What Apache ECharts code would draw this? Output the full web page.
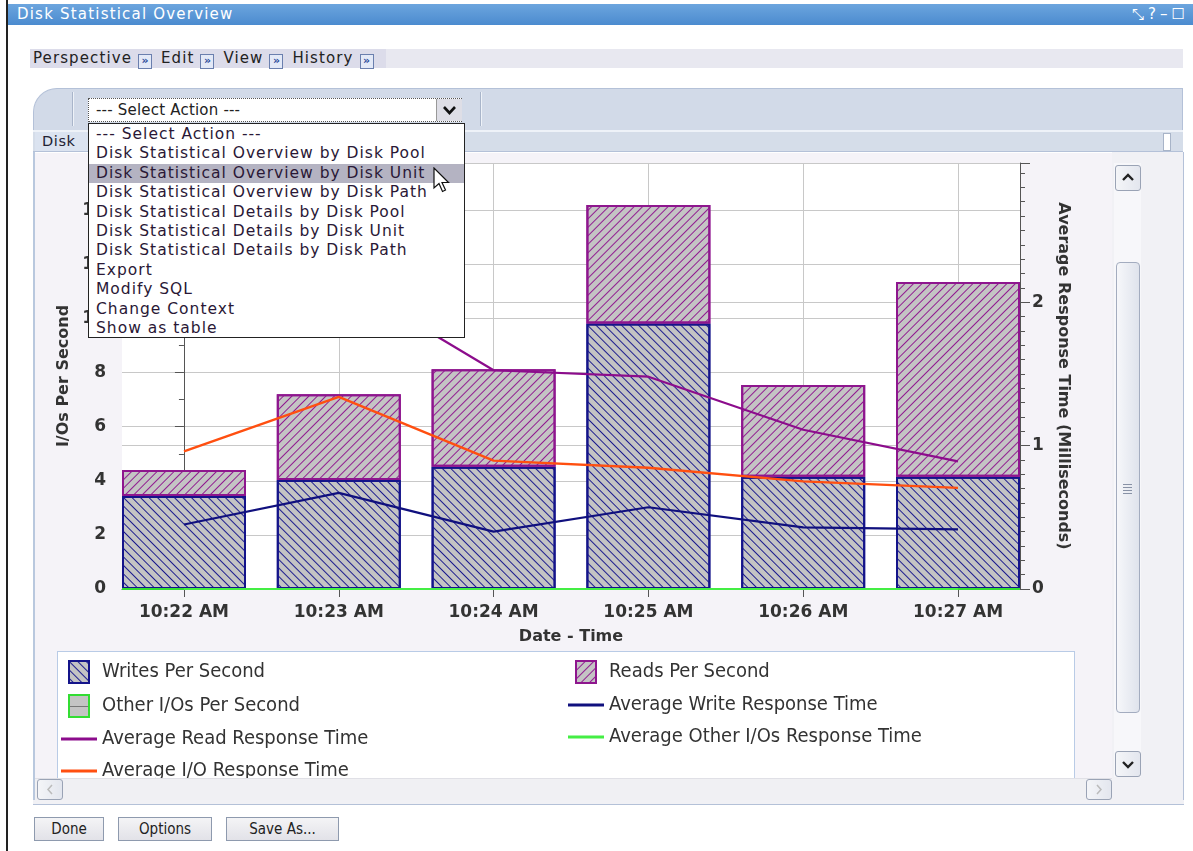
<!DOCTYPE html>
<html>
<head>
<meta charset="utf-8">
<title>Disk Statistical Overview</title>
<script src="https://cdn.jsdelivr.net/npm/echarts@6/dist/echarts.min.js"></script>
<style>
  html, body { margin: 0; padding: 0; background: #fff; }
  body { width: 1193px; height: 851px; position: relative; overflow: hidden; font-family: "DejaVu Sans", sans-serif; }
  .abs { position: absolute; }
  .frameLeft { left: 6px; top: 0; width: 2px; height: 851px; background: #222; }
  .titlebar { left: 8px; top: 4px; width: 1185px; height: 21px; background: linear-gradient(#6ca5de, #4b8bcf); color: #fff; font-size: 15px; letter-spacing: 1.2px; line-height: 21px; padding-left: 9px; box-sizing: border-box; }
  .titlebar .ticons { position: absolute; right: 4px; top: 0; letter-spacing: 4px; font-size: 15px; }
  .menubar { left: 30px; top: 49px; width: 1153px; height: 19px; background: #e8e8f0; }
  .menubar .inner { position: absolute; left: 0; top: 0; width: 353px; height: 19px; background: #dcdcea; font-size: 15px; letter-spacing: 1.1px; line-height: 19px; color: #222; padding-left: 3px; white-space: nowrap; }
  .mico { display: inline-block; width: 12px; height: 13px; border: 1px solid #6a7fae; background: #e3e9f7; color: #2a4a9a; font-size: 11px; line-height: 12px; text-align: center; vertical-align: -1px; margin: 0 9px 0 6px; font-weight: bold; letter-spacing: 0; }
  .panelHead { left: 33px; top: 88px; width: 1150px; height: 42px; background: #d2dae8; border: 1px solid #b4c1d8; border-bottom: none; border-top-left-radius: 24px; box-sizing: border-box; }
  .sep { width: 1px; height: 34px; top: 92px; background: #a9b5ca; box-shadow: 1px 0 0 #eef2f8; }
  .select { left: 88px; top: 98px; width: 374px; height: 24px; background: #fff; border: 1px dotted #555; box-sizing: border-box; font-size: 15px; letter-spacing: 0.2px; line-height: 22px; padding-left: 7px; color: #222; }
  .selBtn { left: 436px; top: 99px; width: 25px; height: 22px; background: #dedee6; border-left: 1px solid #999; }
  .subHead { left: 33px; top: 130px; width: 1150px; height: 22px; background: #d5dde9; border-top: 2px solid #eef2f8; border-bottom: 1px solid #b4c1d8; box-sizing: border-box; }
  .subHead .tab { position: absolute; left: 2px; top: 0; width: 56px; height: 19px; background: #dbe3f0; font-size: 14.5px; letter-spacing: 0.6px; line-height: 19px; padding-left: 7px; box-sizing: border-box; color: #223; }
  .subHead .knob { position: absolute; right: 12px; top: 1px; width: 6px; height: 16px; background: #fff; border: 1px solid #a8b4c8; }
  .content { left: 35px; top: 153px; width: 1077px; height: 625px; background: #f5f3f8; }
  .panelSide { left: 1112px; top: 152px; width: 71px; height: 652px; background: #f1f1f5; border-right: 1px solid #b4c1d8; }
  .panelLeft { left: 33px; top: 152px; width: 2px; height: 652px; background: #b9c8de; }
  .panelBottom { left: 33px; top: 800px; width: 1151px; height: 4px; background: #f1f1f5; border-bottom: 1px solid #b4c1d8; }
  .legendBox { left: 57px; top: 651px; width: 1018px; height: 130px; background: #fff; border: 1px solid #b9cbe6; box-sizing: border-box; }
  .vtrack { left: 1114px; top: 163px; width: 27px; height: 614px; background: #f7f7fa; }
  .sbtn { background: linear-gradient(90deg, #f4f5f8, #e3e6ee); border: 1px solid #9aa3b5; border-radius: 3px; box-sizing: border-box; }
  .thumb { left: 1116px; top: 262px; width: 24px; height: 451px; background: linear-gradient(90deg, #f6f7fa, #dfe3ec); border: 1px solid #a3acbf; border-radius: 4px; box-sizing: border-box; }
  .grip { left: 1123px; width: 9px; height: 1px; background: #8892a6; }
  .hscroll { left: 35px; top: 778px; width: 1077px; height: 22px; background: #f0f0f3; border-top: 1px solid #e0e0e6; box-sizing: border-box; }
  .btn { top: 817px; height: 24px; background: linear-gradient(#f4f4f6, #e2e2e8); border: 1px solid #8e9aae; box-sizing: border-box; font-family: "DejaVu Sans Condensed", "DejaVu Sans", sans-serif; font-size: 15px; line-height: 22px; text-align: center; color: #222; }
  .dropdown { left: 88px; top: 123px; width: 377px; height: 215px; background: #fff; border: 1px solid #222; box-sizing: border-box; z-index: 5; font-size: 15.5px; letter-spacing: 1px; color: #2a1836; padding-top: 1px; }
  .dropdown div { height: 19.4px; line-height: 19.4px; padding-left: 7px; white-space: nowrap; }
  .dropdown .hl { background: #b4b3c2; }
  #chart { position: absolute; left: 0; top: 0; width: 1193px; height: 851px; z-index: 3; }
  .over { z-index: 4; }
</style>
</head>
<body>
<div class="abs frameLeft"></div>
<div class="abs titlebar">Disk Statistical Overview<span class="ticons">⤡?–☐</span></div>
<div class="abs menubar"><div class="inner">Perspective<span class="mico">»</span>Edit<span class="mico">»</span>View<span class="mico">»</span>History<span class="mico">»</span></div></div>
<div class="abs panelHead"></div>
<div class="abs sep" style="left:72px"></div>
<div class="abs sep" style="left:480px"></div>
<div class="abs select">--- Select Action ---</div>
<div class="abs selBtn"><svg width="25" height="22"><path d="M7 8 L12.5 14 L18 8" fill="none" stroke="#111" stroke-width="2.6"/></svg></div>
<div class="abs subHead"><div class="tab">Disk</div><div class="knob"></div></div>
<div class="abs content"></div>
<div class="abs panelSide"></div>
<div class="abs panelLeft"></div>
<div class="abs panelBottom"></div>
<div class="abs legendBox"></div>

<div class="abs vtrack over"></div>
<div class="abs sbtn over" style="left:1115px;top:165px;width:26px;height:26px"><svg width="24" height="24"><path d="M7 14 L12 9 L17 14" fill="none" stroke="#222" stroke-width="2.4"/></svg></div>
<div class="abs thumb over"></div>
<div class="abs grip over" style="top:484px"></div>
<div class="abs grip over" style="top:487px"></div>
<div class="abs grip over" style="top:490px"></div>
<div class="abs grip over" style="top:493px"></div>
<div class="abs sbtn over" style="left:1115px;top:751px;width:26px;height:26px"><svg width="24" height="24"><path d="M7 10 L12 15 L17 10" fill="none" stroke="#222" stroke-width="2.4"/></svg></div>
<div class="abs hscroll over"></div>
<div class="abs sbtn over" style="left:37px;top:779px;width:26px;height:21px"><svg width="24" height="19"><path d="M14 5 L10 9.5 L14 14" fill="none" stroke="#bbb" stroke-width="1.5"/></svg></div>
<div class="abs sbtn over" style="left:1086px;top:779px;width:26px;height:21px"><svg width="24" height="19"><path d="M10 5 L14 9.5 L10 14" fill="none" stroke="#bbb" stroke-width="1.5"/></svg></div>

<div class="abs btn" style="left:34px;width:70px">Done</div>
<div class="abs btn" style="left:118px;width:94px">Options</div>
<div class="abs btn" style="left:226px;width:113px">Save As...</div>

<div class="abs dropdown">
  <div>--- Select Action ---</div>
  <div>Disk Statistical Overview by Disk Pool</div>
  <div class="hl">Disk Statistical Overview by Disk Unit</div>
  <div>Disk Statistical Overview by Disk Path</div>
  <div>Disk Statistical Details by Disk Pool</div>
  <div>Disk Statistical Details by Disk Unit</div>
  <div>Disk Statistical Details by Disk Path</div>
  <div>Export</div>
  <div>Modify SQL</div>
  <div>Change Context</div>
  <div>Show as table</div>
</div>
<svg class="abs" style="left:432px;top:167px;z-index:6" width="20" height="30">
  <path d="M2 1 L2 21 L7 16.5 L10.5 24.5 L13.5 23 L10 15.5 L16.5 15.5 Z" fill="#fff" stroke="#111" stroke-width="1.2"/>
</svg>

<div id="chart"></div>

<script>
// 时间点（横轴类目）
const timeLabels = ['10:22 AM', '10:23 AM', '10:24 AM', '10:25 AM', '10:26 AM', '10:27 AM'];

// 每秒 I/O（左轴）
const writesPerSecond = [3.44, 4.03, 4.52, 9.82, 4.15, 4.15];
const readsPerSecond = [0.96, 3.17, 3.60, 4.38, 3.39, 7.20];
const otherPerSecond = [0, 0, 0, 0, 0, 0];

// 平均响应时间，毫秒（右轴）
const avgWriteResponse = [0.45, 0.67, 0.40, 0.57, 0.43, 0.415];
const avgReadResponse = [1.95, 2.17, 1.525, 1.48, 1.11, 0.89];
const avgOtherResponse = [0, 0, 0, 0, 0, 0];
const avgIoResponse = [0.96, 1.34, 0.895, 0.845, 0.75, 0.705];

// 轴范围
const leftMax = 15.75;
const rightMax = 2.97;

const FONT = 'DejaVu Sans';
const LEGEND_FONT = 'DejaVu Sans Condensed';

const positions = timeLabels.map((_, i) => i);

const barIcon = 'path://M0 0H20V22H0Z';
const lineIcon = 'path://M0 0H36V3H0Z';

const chart = echarts.init(document.getElementById('chart'), null, { renderer: 'canvas' });

const axisNameStyle = { fontFamily: FONT, fontWeight: 'bold', fontSize: 16, color: '#333' };
const tickLabelStyle = { fontFamily: FONT, fontWeight: 'bold', fontSize: 17, color: '#333' };
const legendText = { fontFamily: LEGEND_FONT, fontSize: 20, lineHeight: 22, color: '#333' };

const hiddenAxis = { show: false, axisLine: { show: false }, axisTick: { show: false }, axisLabel: { show: false }, splitLine: { show: false } };

const option = {
  animation: false,
  backgroundColor: 'transparent',
  grid: [
    // 可见坐标轴所在的绘图区
    { left: 122, right: 173, top: 163, bottom: 262, show: true, backgroundColor: '#ffffff', borderWidth: 0 },
    // 柱子和折线所在的类目网格（两端留出与原图一致的间距）
    { left: 106.6, right: 157.6, top: 163, bottom: 262, show: false }
  ],
  legend: [
    {
      left: 61, top: 660, orient: 'vertical', itemGap: 10, padding: 0,
      itemWidth: 36, itemHeight: 22, selectedMode: false,
      textStyle: legendText,
      data: [
        { name: 'Writes Per Second', icon: barIcon },
        { name: 'Other I/Os Per Second', icon: barIcon },
        { name: 'Average Read Response Time', icon: lineIcon },
        { name: 'Average I/O Response Time', icon: lineIcon }
      ]
    },
    {
      left: 568, top: 660, orient: 'vertical', itemGap: 10, padding: 0,
      itemWidth: 36, itemHeight: 22, selectedMode: false,
      textStyle: legendText,
      data: [
        { name: 'Reads Per Second', icon: barIcon },
        { name: 'Average Write Response Time', icon: lineIcon },
        { name: 'Average Other I/Os Response Time', icon: lineIcon }
      ]
    }
  ],
  xAxis: [
    {
      gridIndex: 0,
      type: 'value',
      min: -0.4,
      max: 5.4,
      name: 'Date - Time',
      nameLocation: 'middle',
      nameGap: 40,
      nameTextStyle: axisNameStyle,
      axisLine: { show: true, onZero: false, lineStyle: { color: '#555', width: 1 } },
      axisTick: { show: true, customValues: positions, length: 8, lineStyle: { color: '#555' } },
      axisLabel: Object.assign({ customValues: positions, margin: 15, formatter: (v) => timeLabels[v] }, tickLabelStyle),
      splitLine: { show: true, lineStyle: { color: '#c8c8c8', width: 1 } }
    },
    Object.assign({ gridIndex: 1, type: 'category', data: timeLabels, boundaryGap: true }, hiddenAxis)
  ],
  yAxis: [
    {
      gridIndex: 0,
      type: 'value',
      position: 'left',
      min: 0,
      max: leftMax,
      interval: 2,
      name: 'I/Os Per Second',
      nameLocation: 'middle',
      nameGap: 46,
      nameTextStyle: axisNameStyle,
      axisLine: { show: true, lineStyle: { color: '#555', width: 1 } },
      axisTick: { show: true, length: 9, lineStyle: { color: '#555' } },
      minorTick: { show: true, splitNumber: 2, length: 5, lineStyle: { color: '#555' } },
      axisLabel: Object.assign({ margin: 16, showMaxLabel: false }, tickLabelStyle),
      splitLine: { show: true, lineStyle: { color: '#c8c8c8', width: 1 } }
    },
    {
      gridIndex: 0,
      type: 'value',
      position: 'right',
      min: 0,
      max: rightMax,
      interval: 1,
      name: 'Average Response Time (Milliseconds)',
      nameLocation: 'middle',
      nameRotate: -90,
      nameGap: 34,
      nameTextStyle: axisNameStyle,
      axisLine: { show: true, lineStyle: { color: '#555', width: 1 } },
      axisTick: { show: true, length: 10, lineStyle: { color: '#555' } },
      minorTick: { show: true, splitNumber: 10, length: 5, lineStyle: { color: '#555' } },
      axisLabel: Object.assign({ margin: 12, showMaxLabel: false }, tickLabelStyle),
      splitLine: { show: true, lineStyle: { color: '#c8c8c8', width: 1 } }
    },
    Object.assign({ gridIndex: 1, type: 'value', position: 'left', min: 0, max: leftMax }, hiddenAxis),
    Object.assign({ gridIndex: 1, type: 'value', position: 'right', min: 0, max: rightMax }, hiddenAxis)
  ],
  series: [
    {
      name: 'Writes Per Second',
      type: 'bar',
      xAxisIndex: 1, yAxisIndex: 2,
      stack: 'io',
      barWidth: 124,
      barGap: '-100%',
      z: 2,
      data: writesPerSecond,
      itemStyle: {
        color: '#c4c4c4',
        borderColor: '#14148a',
        borderWidth: 2,
        decal: { symbol: 'rect', symbolSize: 1, color: '#1c1c8e', dashArrayX: [1, 0], dashArrayY: [1, 5], rotation: Math.PI / 4 }
      }
    },
    {
      name: 'Reads Per Second',
      type: 'bar',
      xAxisIndex: 1, yAxisIndex: 2,
      stack: 'io',
      barWidth: 124,
      z: 2,
      data: readsPerSecond,
      itemStyle: {
        color: '#c4c4c4',
        borderColor: '#8e168e',
        borderWidth: 2,
        decal: { symbol: 'rect', symbolSize: 1, color: '#901c90', dashArrayX: [1, 0], dashArrayY: [1, 5], rotation: -Math.PI / 4 }
      }
    },
    {
      name: 'Other I/Os Per Second',
      type: 'bar',
      xAxisIndex: 1, yAxisIndex: 2,
      stack: 'other',
      barWidth: 124,
      barGap: '-100%',
      z: 3,
      data: otherPerSecond,
      itemStyle: {
        color: '#c4c4c4',
        borderColor: '#33dd33',
        borderWidth: 2,
        decal: { symbol: 'rect', symbolSize: 1, color: '#777777', dashArrayX: [1, 0], dashArrayY: [1, 10] }
      }
    },
    {
      name: 'Average Write Response Time',
      type: 'line',
      xAxisIndex: 1, yAxisIndex: 3,
      symbol: 'none',
      z: 4,
      data: avgWriteResponse,
      color: '#10107e',
      lineStyle: { width: 2.2, color: '#10107e' }
    },
    {
      name: 'Average Read Response Time',
      type: 'line',
      xAxisIndex: 1, yAxisIndex: 3,
      symbol: 'none',
      z: 4,
      data: avgReadResponse,
      color: '#8c0c8c',
      lineStyle: { width: 2.2, color: '#8c0c8c' }
    },
    {
      name: 'Average Other I/Os Response Time',
      type: 'line',
      xAxisIndex: 1, yAxisIndex: 3,
      symbol: 'none',
      z: 4,
      data: avgOtherResponse,
      color: '#44ee44',
      lineStyle: { width: 2.2, color: '#44ee44' }
    },
    {
      name: 'Average I/O Response Time',
      type: 'line',
      xAxisIndex: 1, yAxisIndex: 3,
      symbol: 'none',
      z: 4,
      data: avgIoResponse,
      color: '#ff4f10',
      lineStyle: { width: 2.4, color: '#ff4f10' }
    }
  ]
};

chart.setOption(option);
</script>
</body>
</html>
